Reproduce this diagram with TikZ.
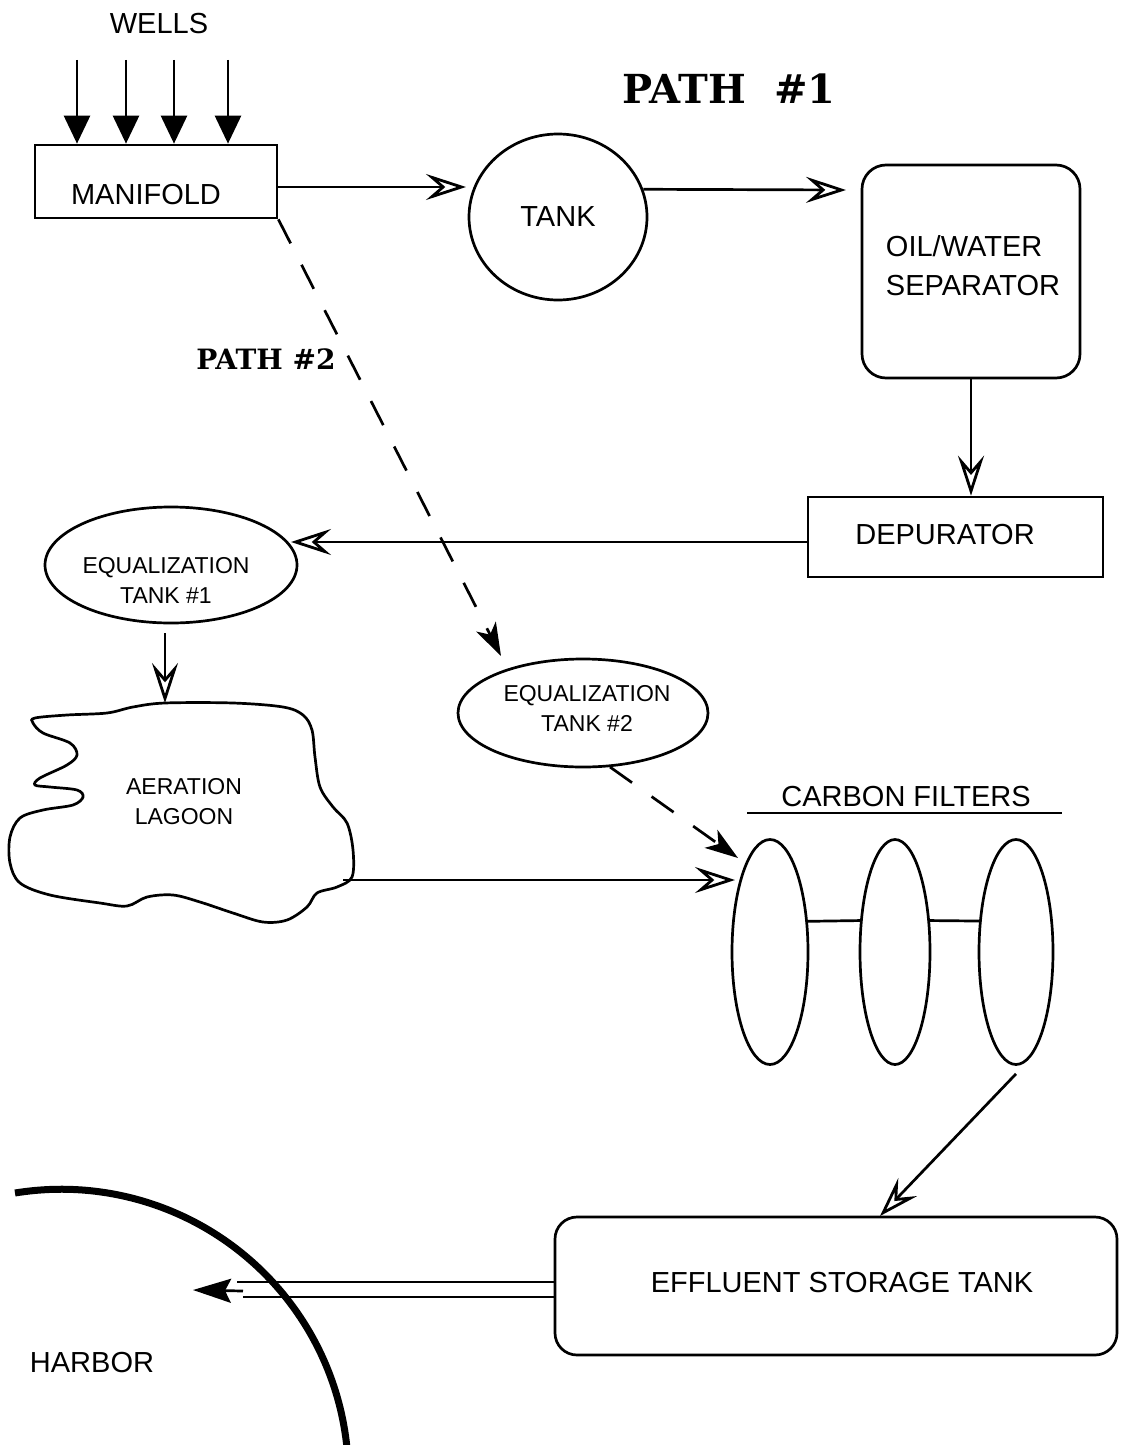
\documentclass[tikz,border=0pt]{standalone}
\usepackage{fontspec}
\setsansfont{Liberation Sans}
\newfontfamily\slabfont{DejaVu Serif}
\usetikzlibrary{arrows.meta,shapes.geometric}
\tikzset{
  ln/.style={line width=2.7pt},
  oarr/.style={ln, -{Stealth[open, length=40pt, width=26pt, inset=15pt, line width=2.8pt]}},
  farr/.style={ln, -{Triangle[length=28pt, width=26pt]}},
  darr/.style={ln, dash pattern=on 27pt off 24pt, -{Stealth[length=33pt, width=22pt, inset=9pt]}},
  txt/.style={font=\sffamily\fontsize{29}{39}\selectfont, inner sep=0pt},
  stxt/.style={font=\sffamily\fontsize{23}{30}\selectfont, inner sep=0pt, align=center},
  bigbold/.style={font=\slabfont\bfseries\fontsize{40}{46}\selectfont, inner sep=0pt},
  midbold/.style={font=\slabfont\bfseries\fontsize{28}{32}\selectfont, inner sep=0pt},
  boxshape/.style={draw, ln, inner sep=0pt},
  ovalshape/.style={draw, ln, ellipse, inner sep=0pt},
}
\begin{document}
\begin{tikzpicture}[x=1pt,y=-1pt]
\useasboundingbox (0,0) rectangle (1120,1445);
\fill[white] (0,0) rectangle (1120,1445);

% titles
\node[txt] (wellslab) at (159,24) {WELLS};
\node[bigbold] (path1) at (729,89) {PATH\ \ \#1};
\node[midbold] (path2) at (266,359) {PATH \#2};

% manifold
\node[boxshape, minimum width=242pt, minimum height=73pt] (manifold) at (156,181.5) {};
\node[txt] (maniftxt) at (146,195) {MANIFOLD};

% wells
\coordinate (w1) at (77,60);
\coordinate (w2) at (126,60);
\coordinate (w3) at (174,60);
\coordinate (w4) at (228,60);
\foreach \w in {w1,w2,w3,w4} \draw[farr] (\w) -- (\w |- manifold.north);

% tank
\node[ovalshape, minimum width=178pt, minimum height=166pt, txt] (tank) at (558,217) {TANK};

% separator
\node[boxshape, rounded corners=24pt, minimum width=218pt, minimum height=213pt] (sep) at (971,271.5) {};
\node[txt, align=left] (septxt) at (973,266) {OIL/WATER\\SEPARATOR};

% depurator
\node[boxshape, minimum width=295pt, minimum height=80pt] (dep) at (955.5,537) {};
\node[txt] (deptxt) at (945,535) {DEPURATOR};

% equalization tanks
\node[ovalshape, minimum width=252pt, minimum height=116pt] (eq1) at (171,565) {};
\node[stxt] (eq1txt) at (166,580) {EQUALIZATION\\TANK \#1};
\node[ovalshape, minimum width=250pt, minimum height=108pt] (eq2) at (583,713) {};
\node[stxt] (eq2txt) at (587,708) {EQUALIZATION\\TANK \#2};

% aeration lagoon
\draw[ln] plot[smooth cycle, tension=0.55] coordinates {
 (35,718) (67,715) (107,713) (133,707) (165,703) (233,703) (283,707) (303,715)
 (312,730) (315,757) (320,787) (333,807) (347,823) (353,850) (352,877) (337,887)
 (317,893) (307,907) (287,920) (263,922) (233,913) (200,902) (173,895) (147,897)
 (127,906) (100,903) (50,895) (20,883) (10,863) (10,837) (20,818) (43,810)
 (73,805) (83,797) (77,790) (50,787) (35,785) (40,778) (67,765) (77,755)
 (70,743) (43,733) (33,723)};
\node[stxt] (lagtxt) at (184,802) {AERATION\\LAGOON};

% carbon filters
\node[ovalshape, minimum width=76pt, minimum height=225pt] (c1) at (770,952) {};
\node[ovalshape, minimum width=70pt, minimum height=225pt] (c2) at (895,952) {};
\node[ovalshape, minimum width=74pt, minimum height=225pt] (c3) at (1016,952) {};
\draw[ln] (c1.39) -- (c2.138);
\draw[ln] (c2.42) -- (c3.140);
\node[txt] (cflab) at (906,797) {CARBON FILTERS};
\draw[ln] (747,813) -- (1062,813);

% effluent storage tank
\node[boxshape, rounded corners=22pt, minimum width=562pt, minimum height=138pt] (eff) at (836,1286) {};
\node[txt] (efftxt) at (842,1282) {EFFLUENT STORAGE TANK};

% harbor shoreline
\draw[line width=7pt] (15,1193) arc[start angle=-99.3, end angle=-2, radius=287];
\node[txt] (harbor) at (92,1362) {HARBOR};

% connectors
\coordinate (m1) at (466,187);
\draw[oarr] (manifold.east |- m1) -- (m1);
\coordinate (t2) at (846,190);
\draw[oarr] (tank.18) -- (t2);
\draw[oarr] (sep.south) -- (sep.south |- dep.north);
\coordinate (e1) at (291,542);
\draw[oarr] (dep.west |- e1) -- (e1);
\coordinate (l0) at (165,633);
\coordinate (l1) at (165,703);
\draw[oarr] (l0) -- (l1);
\coordinate (lg) at (343,880);
\coordinate (cin) at (735,880);
\draw[oarr] (lg) -- (cin);
\coordinate (etip) at (880,1216);
\draw[oarr] ([yshift=-8pt]c3.south) -- (etip);

% path 2 (dashed)
\coordinate (q1) at (501,656);
\draw[darr] (manifold.south east) -- (q1);
\coordinate (q2) at (610,767);
\coordinate (q3) at (738,858);
\draw[darr] (q2) -- (q3);

% outfall to harbor
\coordinate (hu) at (237,1282);
\coordinate (hl) at (243,1297);
\coordinate (hs) at (243,1291);
\coordinate (htip) at (193,1290);
\draw[ln] (eff.west |- hu) -- (hu);
\draw[ln] (eff.west |- hl) -- (hl);
\draw[ln, -{Stealth[length=38pt, width=24pt, inset=6pt]}] (hs) -- (htip);
\end{tikzpicture}
\end{document}
